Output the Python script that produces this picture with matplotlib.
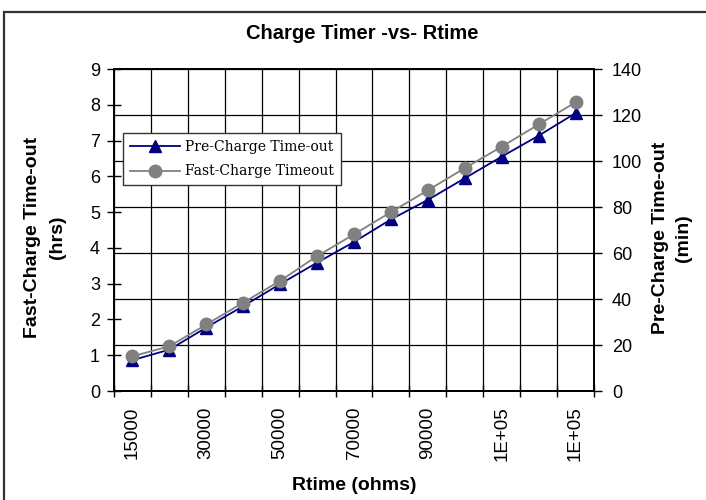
import numpy as np
import matplotlib
matplotlib.use('Agg')
import matplotlib.pyplot as plt
from matplotlib.patches import Rectangle

plt.rcParams['font.family'] = ['Liberation Sans', 'DejaVu Sans']

# data
rtime_ohms = [15000, 20000, 30000, 40000, 50000, 60000, 70000,
              80000, 90000, 100000, 110000, 120000, 130000]
tick_labels = ['15000', '', '30000', '', '50000', '', '70000',
               '', '90000', '', '1E+05', '', '1E+05']
pre_charge_min = [13.4, 18.0, 27.6, 36.9, 46.5, 55.8, 64.8,
                  74.6, 83.1, 92.5, 101.9, 111.0, 120.8]
fast_charge_hrs = [0.97, 1.25, 1.86, 2.47, 3.08, 3.77, 4.38,
                   5.00, 5.61, 6.23, 6.83, 7.45, 8.07]

W, H = 706, 500
fig = plt.figure(figsize=(W/100, H/100), dpi=100)
fig.patch.set_facecolor('white')

# chart area border (only left / top visible in the crop)
fig.patches.append(Rectangle((4/W, -0.1), 1.2, 1.1 - 12/H, transform=fig.transFigure,
                             fill=False, edgecolor='#333333', linewidth=1.6))

ax = fig.add_axes([114/W, 1-391/H, 480/W, 322/H])
ax2 = ax.twinx()   # twinx resets ax ticks to the left, so configure after
x = np.arange(len(rtime_ohms))

# primary (drawn first) holds pre-charge on the right-hand scale
l1, = ax.plot(x, pre_charge_min, color='#000080', linewidth=1.3, marker='^',
              markersize=8, markerfacecolor='#000080', markeredgecolor='#000080', zorder=3)
ax.set_ylim(0, 140)
ax.set_yticks(np.arange(0, 141, 20))
ax.yaxis.tick_right()
ax.set_xlim(-0.5, len(x) - 0.5)
ax.set_xticks(x)
ax.set_xticklabels(tick_labels, rotation=90, fontsize=13.5)
ax.set_xticks(np.arange(-0.5, len(x), 1), minor=True)
ax.tick_params(axis='x', which='major', length=0, pad=11)
ax.tick_params(axis='x', which='minor', direction='inout', length=8, width=1, color='black')
ax.tick_params(axis='y', which='major', direction='out', length=6, width=1,
               labelsize=13, pad=7)
ax.grid(True, axis='y', which='major', color='black', linewidth=0.9)
ax.grid(True, axis='x', which='minor', color='black', linewidth=0.9)
for s in ax.spines.values():
    s.set_color('black')
    s.set_linewidth(1.4)

# twin holds fast-charge on the left-hand scale
l2, = ax2.plot(x, fast_charge_hrs, color='#808080', linewidth=1.3, marker='o',
               markersize=9, markerfacecolor='#808080', markeredgecolor='#808080', zorder=3)
ax2.set_ylim(0, 9)
ax2.set_yticks(np.arange(0, 10, 1))
ax2.yaxis.tick_left()
ax2.tick_params(axis='y', direction='inout', length=10, width=1, labelsize=13, pad=5)
for s in ax2.spines.values():
    s.set_color('black')
    s.set_linewidth(1.4)

leg = ax2.legend([l1, l2], ['Pre-Charge Time-out', 'Fast-Charge Timeout'],
                 loc='upper left', bbox_to_anchor=((123-114)/480, (391-133)/322),
                 borderaxespad=0, fancybox=False, framealpha=1, handlelength=3.6,
                 handletextpad=0.35, borderpad=0.5, labelspacing=0.75,
                 prop={'family': 'DejaVu Serif', 'size': 10})
leg.get_frame().set_edgecolor('#333333')
leg.get_frame().set_linewidth(1.0)

fig.text(362/W, 1-33/H, 'Charge Timer -vs- Rtime', ha='center', va='center',
         fontsize=14.5, fontweight='bold')
fig.text(354/W, 1-485/H, 'Rtime (ohms)', ha='center', va='center',
         fontsize=14, fontweight='bold')
fig.text(45/W, 1-237/H, 'Fast-Charge Time-out\n(hrs)', ha='center', va='center',
         rotation=90, fontsize=14, fontweight='bold', multialignment='center',
         linespacing=1.55)
fig.text(672/W, 1-238/H, 'Pre-Charge Time-out\n(min)', ha='center', va='center',
         rotation=90, fontsize=14, fontweight='bold', multialignment='center',
         linespacing=1.45)

fig.savefig('out.png', dpi=100)
